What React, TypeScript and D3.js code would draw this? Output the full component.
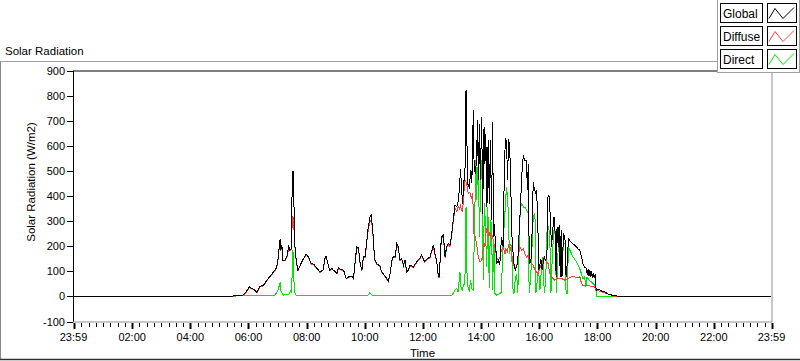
import React from "react";
import * as d3 from "d3";

// time in decimal hours (from 23:59 of previous day to 23:59), values in W/m2
const globalSeries: [number, number][] = [
  [-0.017, 0], [5.45, 0], [5.5, 3], [5.8, 4], [5.9, 15], [6.03, 38], [6.17, 29], [6.29, 16], [6.4, 41], [6.52, 45],
  [6.63, 65], [6.75, 81], [6.86, 98], [6.95, 112], [7.0, 131], [7.05, 191], [7.09, 231], [7.11, 185], [7.15, 205],
  [7.18, 145], [7.26, 145], [7.34, 165], [7.38, 205], [7.41, 185], [7.47, 191], [7.51, 497], [7.55, 497], [7.58, 225],
  [7.64, 145], [7.7, 105], [7.78, 125], [7.89, 151], [7.98, 169], [8.06, 158], [8.16, 131], [8.24, 129], [8.35, 112],
  [8.46, 98], [8.56, 105], [8.64, 158], [8.67, 161], [8.72, 138], [8.79, 105], [8.87, 112], [8.92, 105], [9.04, 92],
  [9.09, 116], [9.15, 108], [9.27, 105], [9.36, 72], [9.44, 78], [9.55, 81], [9.61, 72], [9.64, 105], [9.72, 198],
  [9.78, 195], [9.84, 131], [9.9, 105], [9.95, 158], [10.01, 158], [10.07, 225], [10.12, 278], [10.18, 318],
  [10.22, 324], [10.25, 291], [10.3, 225], [10.33, 149], [10.41, 131], [10.52, 121], [10.58, 98], [10.7, 81],
  [10.81, 62], [10.87, 92], [10.93, 145], [10.98, 158], [11.04, 158], [11.1, 211], [11.15, 198], [11.21, 145],
  [11.27, 151], [11.33, 125], [11.38, 145], [11.44, 98], [11.5, 105], [11.55, 125], [11.67, 118], [11.78, 138],
  [11.88, 151], [11.95, 165], [12.05, 140], [12.15, 150], [12.24, 158], [12.36, 205], [12.41, 171], [12.47, 145],
  [12.53, 78], [12.56, 78], [12.61, 198], [12.64, 238], [12.7, 245], [12.76, 158], [12.81, 198], [12.87, 211],
  [12.93, 205], [12.99, 251], [13.04, 304], [13.1, 364], [13.16, 358], [13.21, 378], [13.25, 424], [13.29, 510],
  [13.33, 424], [13.36, 371], [13.41, 464], [13.44, 464], [13.48, 823], [13.5, 730], [13.53, 451], [13.59, 437],
  [13.65, 504], [13.68, 451], [13.73, 743], [13.76, 504], [13.81, 490], [13.84, 557], [13.88, 703], [13.9, 464],
  [13.94, 690], [13.97, 464], [14.02, 717], [14.05, 331], [14.1, 677], [14.13, 530], [14.16, 650], [14.2, 358],
  [14.24, 623], [14.28, 371], [14.32, 623], [14.36, 304], [14.39, 697], [14.43, 238], [14.45, 291], [14.5, 198],
  [14.54, 131], [14.59, 145], [14.64, 125], [14.7, 238], [14.76, 198], [14.79, 451], [14.83, 630], [14.87, 623],
  [14.91, 464], [14.94, 630], [14.98, 597], [15.01, 490], [15.05, 264], [15.08, 198], [15.13, 131], [15.17, 105],
  [15.22, 118], [15.26, 145], [15.31, 264], [15.35, 358], [15.4, 490], [15.45, 564], [15.49, 544], [15.54, 544],
  [15.56, 537], [15.59, 424], [15.62, 530], [15.64, 264], [15.67, 131], [15.73, 158], [15.79, 457], [15.82, 437],
  [15.87, 411], [15.9, 424], [15.94, 344], [15.98, 105], [16.02, 125], [16.05, 151], [16.1, 105], [16.13, 131],
  [16.17, 158], [16.21, 145], [16.26, 158], [16.3, 404], [16.34, 398], [16.37, 331], [16.42, 198], [16.46, 264],
  [16.5, 318], [16.53, 304], [16.58, 78], [16.61, 278], [16.65, 198], [16.68, 284], [16.72, 78], [16.75, 264],
  [16.78, 78], [16.83, 251], [16.88, 238], [16.92, 78], [16.96, 131], [17.0, 231], [17.1, 215], [17.22, 205],
  [17.33, 190], [17.39, 185], [17.45, 158], [17.5, 131], [17.56, 116], [17.62, 112], [17.65, 85], [17.68, 108],
  [17.71, 80], [17.74, 105], [17.77, 78], [17.8, 100], [17.83, 75], [17.86, 95], [17.89, 72], [17.92, 90],
  [17.94, 40], [17.97, 25], [18.04, 28], [18.13, 22], [18.25, 18], [18.36, 10], [18.48, 6], [18.54, 3],
  [18.77, 1], [18.85, 0], [23.983, 0],
];

const diffuseSeries: [number, number][] = [
  [-0.017, 0], [5.45, 0], [5.5, 2], [5.8, 4], [5.9, 13], [6.03, 36], [6.17, 27], [6.29, 14], [6.4, 39], [6.52, 43],
  [6.63, 63], [6.75, 79], [6.86, 96], [6.95, 110], [7.0, 128], [7.05, 185], [7.09, 210], [7.11, 180], [7.15, 200],
  [7.18, 142], [7.26, 142], [7.34, 162], [7.38, 198], [7.41, 182], [7.47, 186], [7.51, 318], [7.55, 312], [7.58, 218],
  [7.64, 142], [7.7, 103], [7.78, 123], [7.89, 149], [7.98, 167], [8.06, 156], [8.16, 129], [8.24, 127], [8.35, 110],
  [8.46, 96], [8.56, 103], [8.64, 154], [8.67, 157], [8.72, 136], [8.79, 103], [8.87, 110], [8.92, 103], [9.04, 90],
  [9.09, 113], [9.15, 106], [9.27, 103], [9.36, 70], [9.44, 76], [9.55, 79], [9.61, 70], [9.64, 103], [9.72, 192],
  [9.78, 190], [9.84, 128], [9.9, 103], [9.95, 155], [10.01, 154], [10.07, 218], [10.12, 268], [10.18, 300],
  [10.22, 306], [10.25, 282], [10.3, 220], [10.33, 146], [10.41, 129], [10.52, 119], [10.58, 96], [10.7, 79],
  [10.81, 60], [10.87, 90], [10.93, 142], [10.98, 155], [11.04, 155], [11.1, 205], [11.15, 194], [11.21, 142],
  [11.27, 148], [11.33, 122], [11.38, 142], [11.44, 96], [11.5, 103], [11.55, 122], [11.67, 116], [11.78, 135],
  [11.88, 148], [11.95, 162], [12.05, 137], [12.15, 147], [12.24, 155], [12.36, 200], [12.41, 168], [12.47, 142],
  [12.53, 74], [12.56, 75], [12.61, 193], [12.64, 232], [12.7, 238], [12.76, 154], [12.81, 194], [12.87, 206],
  [12.93, 200], [12.99, 245], [13.04, 296], [13.1, 352], [13.16, 338], [13.21, 360], [13.25, 350], [13.29, 362],
  [13.33, 345], [13.36, 340], [13.41, 420], [13.44, 464], [13.48, 457], [13.5, 451], [13.56, 411], [13.61, 417],
  [13.67, 391], [13.71, 411], [13.75, 251], [13.8, 238], [13.84, 211], [13.9, 158], [13.96, 138], [14.02, 145],
  [14.05, 171], [14.1, 211], [14.13, 198], [14.16, 251], [14.21, 278], [14.26, 238], [14.3, 258], [14.35, 225],
  [14.39, 238], [14.44, 211], [14.48, 198], [14.53, 158], [14.59, 145], [14.65, 158], [14.7, 185], [14.76, 198],
  [14.82, 171], [14.85, 191], [14.9, 178], [14.94, 205], [14.99, 198], [15.05, 171], [15.1, 131], [15.16, 111],
  [15.22, 118], [15.27, 158], [15.33, 198], [15.39, 185], [15.45, 191], [15.5, 171], [15.56, 158], [15.62, 165],
  [15.67, 138], [15.73, 131], [15.79, 125], [15.85, 105], [15.9, 98], [15.96, 92], [16.02, 111], [16.07, 131],
  [16.13, 145], [16.19, 151], [16.25, 138], [16.3, 131], [16.36, 92], [16.42, 78], [16.53, 65], [16.65, 72],
  [16.76, 72], [16.88, 65], [16.99, 72], [17.1, 78], [17.22, 78], [17.33, 75], [17.39, 80], [17.45, 52],
  [17.5, 42], [17.73, 42], [17.9, 38], [17.96, 25], [18.08, 20], [18.31, 12], [18.54, 2], [18.77, 0], [23.983, 0],
];

const directSeries: [number, number][] = [
  [-0.017, 0], [5.45, 0], [5.6, 2], [6.0, 3], [6.5, 3], [6.9, 5], [7.0, 20], [7.05, 40], [7.09, 58], [7.12, 20],
  [7.2, 5], [7.4, 10], [7.46, 25], [7.49, 15], [7.51, 185], [7.54, 171], [7.57, 40], [7.6, 12], [7.65, 3], [8.0, 2],
  [8.5, 3], [9.0, 2], [9.5, 3], [10.1, 5], [10.17, 14], [10.22, 8], [10.3, 3], [11.0, 2], [11.5, 3], [12.0, 2],
  [12.5, 4], [13.0, 5], [13.1, 25], [13.16, 32], [13.21, 18], [13.27, 98], [13.31, 32], [13.35, 25], [13.39, 45],
  [13.44, 52], [13.48, 357], [13.52, 45], [13.59, 25], [13.64, 65], [13.67, 32], [13.73, 25], [13.78, 331],
  [13.82, 544], [13.84, 384], [13.88, 517], [13.91, 504], [13.94, 238], [13.98, 424], [14.02, 544], [14.05, 331],
  [14.07, 65], [14.11, 371], [14.14, 304], [14.19, 118], [14.23, 357], [14.28, 32], [14.32, 304], [14.36, 291],
  [14.39, 25], [14.44, 225], [14.47, 12], [14.53, 5], [14.65, 12], [14.7, 18], [14.74, 198], [14.78, 264],
  [14.83, 357], [14.87, 437], [14.91, 397], [14.94, 304], [14.97, 171], [14.99, 211], [15.05, 198], [15.08, 38],
  [15.13, 12], [15.17, 65], [15.22, 91], [15.26, 12], [15.31, 238], [15.35, 357], [15.4, 371], [15.45, 357],
  [15.5, 357], [15.56, 344], [15.62, 331], [15.65, 12], [15.7, 65], [15.74, 171], [15.79, 318], [15.85, 331],
  [15.88, 12], [15.93, 65], [15.97, 118], [16.02, 25], [16.08, 118], [16.13, 158], [16.17, 12], [16.22, 65],
  [16.27, 278], [16.32, 278], [16.36, 238], [16.4, 12], [16.45, 171], [16.5, 264], [16.54, 251], [16.59, 12],
  [16.65, 198], [16.7, 251], [16.76, 198], [16.82, 185], [16.85, 211], [16.89, 211], [16.92, 12], [16.96, 12],
  [17.0, 198], [17.05, 185], [17.16, 158], [17.28, 138], [17.39, 111], [17.5, 72], [17.56, 78], [17.6, 38],
  [17.64, 78], [17.71, 65], [17.79, 58], [17.85, 52], [17.9, 45], [17.94, 30], [17.97, 1], [18.77, 1], [18.8, 0],
  [23.983, 0],
];

const yTickValues = [-100, 0, 100, 200, 300, 400, 500, 600, 700, 800, 900];
const xTickHours = [-1 / 60, 2, 4, 6, 8, 10, 12, 14, 16, 18, 20, 22, 23 + 59 / 60];
const xTickLabels = ["23:59", "02:00", "04:00", "06:00", "08:00", "10:00", "12:00", "14:00", "16:00", "18:00", "20:00", "22:00", "23:59"];
const legendNames = ["Global", "Diffuse", "Direct"];
const seriesColors = ["#000000", "#ff3c3c", "#00e600"];

export default function App() {
  const W = 800, H = 361;
  const left = 73.5, right = 771.5, top = 71, bottom = 321.5;
  const x = d3.scaleLinear().domain([-1 / 60, 23 + 59 / 60]).range([left, right]);
  const y = d3.scaleLinear().domain([-100, 900]).range([bottom, top]);
  const line = d3.line<[number, number]>().x((d) => x(d[0])).y((d) => y(d[1]));
  const minorTicks = d3.range(0, 24 * 4).map((i) => i / 4).filter((h) => h % 2 !== 0);
  const font = "'Liberation Sans', Arial, sans-serif";
  const drawOrder: [number, [number, number][]][] = [[2, directSeries], [1, diffuseSeries], [0, globalSeries]];

  return (
    <svg width={W} height={H} style={{ position: "absolute", left: 0, top: 0, display: "block", background: "#fff" }} fontFamily={font}>
      {/* panel */}
      <text x={5} y={55} fontSize={11.5} fill="#000">Solar Radiation</text>
      <line x1={0} x2={800} y1={61.5} y2={61.5} stroke="#a0a0a0" />
      <line x1={0.5} x2={0.5} y1={61.5} y2={360} stroke="#8a8a8a" />
      <line x1={0} x2={800} y1={359.5} y2={359.5} stroke="#303030" strokeWidth={1.5} />

      {/* data */}
      <g shapeRendering="crispEdges">
        {drawOrder.map(([idx, data]) => (
          <path key={idx} d={line(data) || ""} fill="none" stroke={seriesColors[idx]} strokeWidth={1} />
        ))}
      </g>

      {/* plot frame */}
      <line x1={73} x2={772} y1={71} y2={71} stroke="#000" />
      <line x1={73.5} x2={73.5} y1={71} y2={322} stroke="#000" />
      <line x1={73} x2={772} y1={322} y2={322} stroke="#909090" />
      <line x1={772} x2={772} y1={71} y2={322} stroke="#909090" />

      {/* y axis */}
      {yTickValues.map((v) => (
        <g key={v}>
          <line x1={67} x2={73} y1={Math.round(y(v)) + 0.5} y2={Math.round(y(v)) + 0.5} stroke="#000" />
          <text x={65} y={y(v) + 4} fontSize={11} textAnchor="end" fill="#000">{v}</text>
        </g>
      ))}
      <text transform={`translate(35,182) rotate(-90)`} fontSize={11.5} textAnchor="middle" fill="#000">Solar Radiation (W/m2)</text>

      {/* x axis */}
      {minorTicks.map((h) => (
        <line key={h} x1={Math.round(x(h)) + 0.5} x2={Math.round(x(h)) + 0.5} y1={323} y2={327} stroke="#000" />
      ))}
      {xTickHours.map((h, i) => (
        <g key={i}>
          <line x1={Math.round(x(h)) + 0.5} x2={Math.round(x(h)) + 0.5} y1={323} y2={329} stroke="#000" strokeWidth={2} />
          <text x={x(h)} y={341} fontSize={11} textAnchor="middle" fill="#000">{xTickLabels[i]}</text>
        </g>
      ))}
      <text x={(left + right) / 2} y={357} fontSize={11.5} textAnchor="middle" fill="#000">Time</text>

      {/* legend */}
      <rect x={717.5} y={-1} width={82} height={73.5} fill="#fff" stroke="#a0a0a0" />
      {legendNames.map((name, i) => {
        const ry = 3.5 + i * 23;
        return (
          <g key={name}>
            <rect x={720.5} y={ry} width={42} height={19} fill="#fff" stroke="#000" />
            <text x={723} y={ry + 14} fontSize={12} fill="#000">{name}</text>
            <rect x={767.5} y={ry} width={29} height={19} fill="#fff" stroke="#000" />
            <polyline points={`769,${ry + 15} 775,${ry + 5} 783,${ry + 15} 794,${ry + 4}`} fill="none" stroke={seriesColors[i]} />
          </g>
        );
      })}
    </svg>
  );
}
